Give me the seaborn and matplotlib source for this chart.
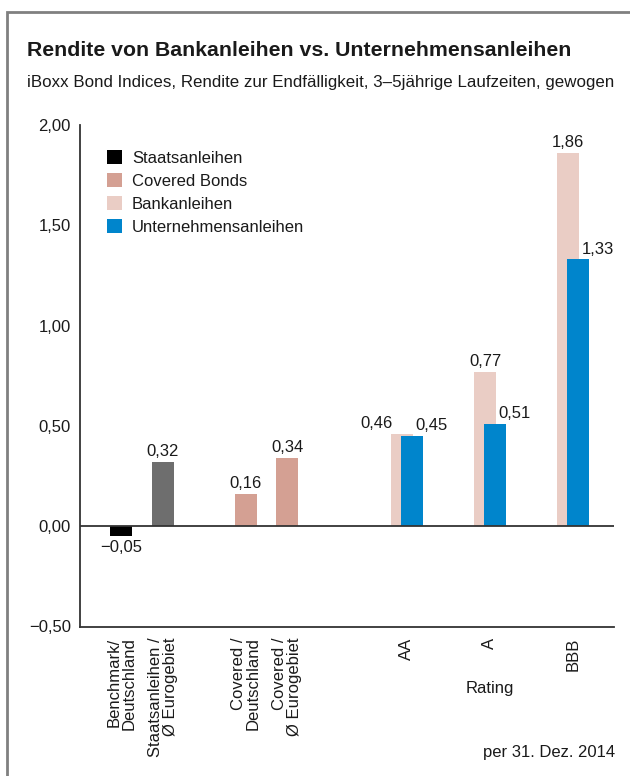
import matplotlib
matplotlib.use("Agg")
import matplotlib.pyplot as plt
from matplotlib import font_manager
from matplotlib.patches import Patch, Rectangle
import seaborn as sns
import pandas as pd

# ---------------- data ----------------
staat_labels = ["Benchmark/\nDeutschland", "Staatsanleihen /\nØ Eurogebiet"]
staat_values = [-0.05, 0.32]
covered_labels = ["Covered /\nDeutschland", "Covered /\nØ Eurogebiet"]
covered_values = [0.16, 0.34]
rating_labels = ["AA", "A", "BBB"]
bank_values = [0.46, 0.77, 1.86]
unternehmen_values = [0.45, 0.51, 1.33]
series_names = ["Staatsanleihen", "Covered Bonds", "Bankanleihen", "Unternehmensanleihen"]
yticks = [-0.5, 0.0, 0.5, 1.0, 1.5, 2.0]

title = "Rendite von Bankanleihen vs. Unternehmensanleihen"
subtitle = "iBoxx Bond Indices, Rendite zur Endfälligkeit, 3\u20135jährige Laufzeiten, gewogen"
source = "per 31. Dez. 2014"

# ---------------- style ----------------
sns.set_style("white")
names = {f.name for f in font_manager.fontManager.ttflist}
base = "Liberation Sans Narrow" if "Liberation Sans Narrow" in names else "Liberation Sans"
plt.rcParams["font.family"] = [base, "DejaVu Sans"]

c_black = "#000000"
c_gray = "#6e6e6e"
c_cov = "#d4a093"
c_bank = "#eacdc5"
c_blue = "#0085cc"
c_axis = "#333333"
c_text = "#1a1a1a"

# positions (layout)
staat_pos = [0.0, 1.0]
cov_pos = [3.0, 4.0]
blue_pos = [7.0, 9.0, 11.0]
pink_shift = -0.23
bank_pos = [p + pink_shift for p in blue_pos]
group_pos = [p + pink_shift / 2 for p in blue_pos]

W, H = 630, 776
fig = plt.figure(figsize=(W / 100, H / 100), dpi=100)
ax_l, ax_r, ax_t, ax_b = 80, 614, 125, 626.5
ax = fig.add_axes([ax_l / W, 1 - ax_b / H, (ax_r - ax_l) / W, (ax_b - ax_t) / H])

df_s = pd.DataFrame({"x": staat_pos, "y": staat_values, "lab": staat_labels})
df_c = pd.DataFrame({"x": cov_pos, "y": covered_values})
df_b = pd.DataFrame({"x": bank_pos, "y": bank_values})
df_u = pd.DataFrame({"x": blue_pos, "y": unternehmen_values})

sns.barplot(data=df_s, x="x", y="y", hue="lab", palette=[c_black, c_gray],
            native_scale=True, width=0.53, dodge=False, legend=False, ax=ax,
            saturation=1, linewidth=0)
sns.barplot(data=df_c, x="x", y="y", color=c_cov, native_scale=True, width=0.53,
            ax=ax, saturation=1, linewidth=0)
sns.barplot(data=df_b, x="x", y="y", color=c_bank, native_scale=True, width=0.265,
            ax=ax, saturation=1, linewidth=0)
sns.barplot(data=df_u, x="x", y="y", color=c_blue, native_scale=True, width=0.265,
            ax=ax, saturation=1, linewidth=0)

ax.axhline(0, color=c_axis, lw=1.3, zorder=5)
ax.set_xlim(-1.0, 11.88)
ax.set_ylim(-0.5, 2.0)
for s in ["top", "right"]:
    ax.spines[s].set_visible(False)
for s in ["left", "bottom"]:
    ax.spines[s].set_color(c_axis)
    ax.spines[s].set_linewidth(1.3)
ax.set_xlabel("")
ax.set_ylabel("")

def fmt(v):
    return f"{v:.2f}".replace(".", ",").replace("-", "\u2212")

ax.set_yticks(yticks)
ax.set_yticklabels([fmt(v) for v in yticks])
ax.tick_params(axis="y", direction="in", length=9, width=1.3, color=c_axis,
               pad=6.5, labelsize=12, labelcolor=c_text)

ax.set_xticks(staat_pos + cov_pos + group_pos)
ax.set_xticklabels(staat_labels + covered_labels + rating_labels, rotation=90,
                   va="top", ha="center", multialignment="right", linespacing=1.0)
ax.tick_params(axis="x", length=0, pad=8, labelsize=12, labelcolor=c_text)

# value labels
lab_kw = dict(fontsize=12, color=c_text, ha="center")
for x, v in zip(staat_pos, staat_values):
    if v < 0:
        ax.annotate(fmt(v), (x, v), xytext=(0, -3), textcoords="offset points", va="top", **lab_kw)
    else:
        ax.annotate(fmt(v), (x, v), xytext=(0, 2), textcoords="offset points", va="bottom", **lab_kw)
for x, v in zip(cov_pos, covered_values):
    ax.annotate(fmt(v), (x, v), xytext=(0, 2), textcoords="offset points", va="bottom", **lab_kw)
bank_dx = [-0.62, 0.0, 0.0]
for x, v, dx in zip(bank_pos, bank_values, bank_dx):
    ax.annotate(fmt(v), (x + dx, v), xytext=(0, 2), textcoords="offset points", va="bottom", **lab_kw)
for x, v in zip(blue_pos, unternehmen_values):
    ax.annotate(fmt(v), (x + 0.48, v), xytext=(0, 2), textcoords="offset points", va="bottom", **lab_kw)

ax.annotate("Rating", (group_pos[1], (ax_b - 688) / (ax_b - ax_t)),
            xycoords=("data", "axes fraction"), ha="center", va="center",
            fontsize=12, color=c_text)

# legend
handles = [Patch(facecolor=c, edgecolor="none") for c in [c_black, c_cov, c_bank, c_blue]]
fig.legend(handles, series_names, loc="upper left",
           bbox_to_anchor=(107 / W, 1 - 150 / H), frameon=False, fontsize=12,
           handlelength=0.9, handleheight=0.9, handletextpad=0.6,
           labelspacing=0.45, borderpad=0, borderaxespad=0, labelcolor=c_text)

# titles
fig.text(27 / W, 1 - 51 / H, title, fontsize=15.3, fontweight="bold", color=c_text,
         ha="left", va="center")
fig.text(27 / W, 1 - 82 / H, subtitle, fontsize=12.2, color=c_text, ha="left", va="center")
fig.text(615 / W, 1 - 753 / H, source, fontsize=12, color=c_text, ha="right", va="center")

# outer frame
fig.patches.append(Rectangle((7 / W, -0.1), 1.2, 1.1 - 12 / H, transform=fig.transFigure,
                             fill=False, edgecolor="#808080", linewidth=2))

fig.savefig("out.png", dpi=100, facecolor="white")
